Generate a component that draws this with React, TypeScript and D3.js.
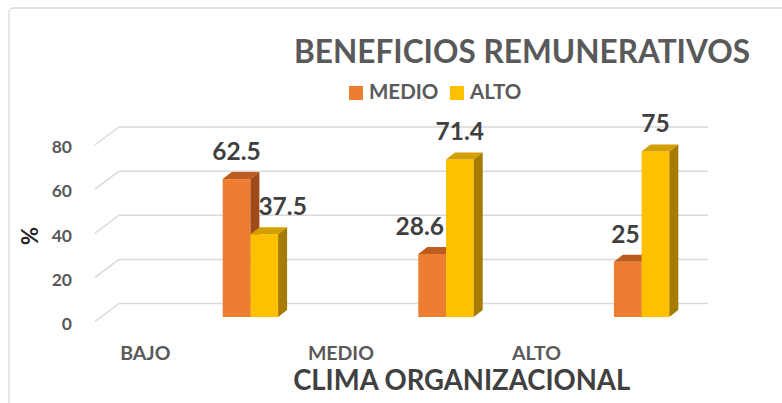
import React, { useMemo } from "react";
import * as d3 from "d3";

const categories = ["BAJO", "MEDIO", "ALTO"];
const seriesNames = ["MEDIO", "ALTO"];
const medioValues = [62.5, 28.6, 25];
const altoValues = [37.5, 71.4, 75];
const yTicks = [0, 20, 40, 60, 80];

const title = "BENEFICIOS REMUNERATIVOS";
const xTitle = "CLIMA ORGANIZACIONAL";
const yTitle = "%";

const W = 782;
const H = 403;
const FONT = "Lato, 'Open Sans', sans-serif";

const frontColors = ["#ED7D31", "#FFC000"];
const topColors = ["#BE5B1E", "#D4A000"];
const sideColors = ["#9E4B19", "#A67C00"];

function textWidth(text: string, size: number, weight = "bold") {
  if (typeof document === "undefined") return text.length * size * 0.55;
  const c = document.createElement("canvas");
  const ctx = c.getContext("2d");
  if (!ctx) return text.length * size * 0.55;
  ctx.font = `${weight} ${size}px Lato`;
  return ctx.measureText(text).width;
}

export default function App() {
  const yLen = d3.scaleLinear().domain([0, 80]).range([0, 176.5]);
  const backBase = 303.5;
  const frontBase = 321.5;
  const barBase = 317;
  const backLeft = 119;
  const frontLeft = 95;
  const gridRight = 708;
  const dx = 9;
  const dy = -7;

  const xCat = d3.scaleBand().domain(categories).range([47.5, 47.5 + 3 * 195.6]);
  const barOffset = 175.2;
  const inner = d3.scaleBand().domain(seriesNames).range([0, 55.4]);
  const bw = inner.bandwidth();

  const values = [medioValues, altoValues];

  const bars = useMemo(() => {
    const out: any[] = [];
    categories.forEach((c, ci) => {
      seriesNames.forEach((s, si) => {
        const v = values[si][ci];
        const x = (xCat(c) as number) + barOffset + (inner(s) as number);
        const yTop = barBase - yLen(v);
        out.push({ c, ci, s, si, v, x, yTop });
      });
    });
    return out;
  }, []);

  const labelSize = 24.5;
  const labels = bars.map((b) => {
    const text = String(b.v);
    const tw = textWidth(text, labelSize);
    let cx = b.x + bw / 2;
    const cy = b.yTop - 28;
    const bottom = cy + 9;
    const gap = 7;
    bars
      .filter((o) => o.ci === b.ci && o.si !== b.si)
      .forEach((o) => {
        const left = o.x;
        const right = o.x + bw + dx;
        if (o.yTop < bottom) {
          if (o.si < b.si && cx - tw / 2 < right - 1) cx = right - 1 + tw / 2;
          if (o.si > b.si && cx + tw / 2 > left - gap + 5) cx = left - gap + 5 - tw / 2;
        }
      });
    return { text, cx, cy };
  });

  return (
    <svg
      width={W}
      height={H}
      style={{ position: "fixed", left: 0, top: 0, background: "#fff" }}
      fontFamily={FONT}
    >
      <rect x={9} y={8} width={W + 20} height={H + 20} rx={4} fill="#fff" stroke="#D9D9D9" strokeWidth={1.3} />

      <text x={294} y={63.3} fontSize={31.5} fontWeight="bold" fill="#595959" textLength={456} lengthAdjust="spacingAndGlyphs">
        {title}
      </text>

      {seriesNames.map((s, i) => {
        const lx = [349, 450][i];
        return (
          <g key={s}>
            <rect x={lx} y={86} width={14} height={14} fill={frontColors[i]} />
            <text x={lx + 20} y={99} fontSize={20.5} fontWeight="bold" fill="#595959">
              {s}
            </text>
          </g>
        );
      })}

      {yTicks.map((t) => (
        <g key={t}>
          <line x1={backLeft} x2={gridRight} y1={backBase - yLen(t)} y2={backBase - yLen(t)} stroke="#D9D9D9" strokeWidth={1.5} />
          <line x1={frontLeft} x2={backLeft} y1={frontBase - yLen(t)} y2={backBase - yLen(t)} stroke="#D9D9D9" strokeWidth={1.5} />
          <text x={72} y={frontBase - yLen(t) + 8.3} textAnchor="end" fontSize={17.5} fontWeight="bold" fill="#595959">
            {t}
          </text>
        </g>
      ))}

      {bars.map((b) => {
        const { x, yTop, si } = b;
        const top = `${x},${yTop} ${x + dx},${yTop + dy} ${x + bw + dx},${yTop + dy} ${x + bw},${yTop}`;
        const side = `${x + bw},${yTop} ${x + bw + dx},${yTop + dy} ${x + bw + dx},${barBase + dy} ${x + bw},${barBase}`;
        return (
          <g key={b.c + b.s}>
            <rect x={x} y={yTop} width={bw} height={barBase - yTop} fill={frontColors[si]} />
            <polygon points={top} fill={topColors[si]} />
            <polygon points={side} fill={sideColors[si]} />
          </g>
        );
      })}

      {labels.map((l, i) => (
        <text key={i} x={l.cx} y={l.cy + 8.8} textAnchor="middle" fontSize={labelSize} fontWeight="bold" fill="#404040">
          {l.text}
        </text>
      ))}

      {categories.map((c) => (
        <text key={c} x={(xCat(c) as number) + xCat.bandwidth() / 2} y={360} textAnchor="middle" fontSize={19.5} fontWeight="bold" fill="#595959">
          {c}
        </text>
      ))}

      <text x={461.7} y={390} textAnchor="middle" fontSize={28} fontWeight="bold" fill="#404040" textLength={337} lengthAdjust="spacingAndGlyphs">
        {xTitle}
      </text>

      <text transform="translate(38,236) rotate(-90)" textAnchor="middle" fontSize={22} fontWeight="bold" fill="#262626">
        {yTitle}
      </text>
    </svg>
  );
}
